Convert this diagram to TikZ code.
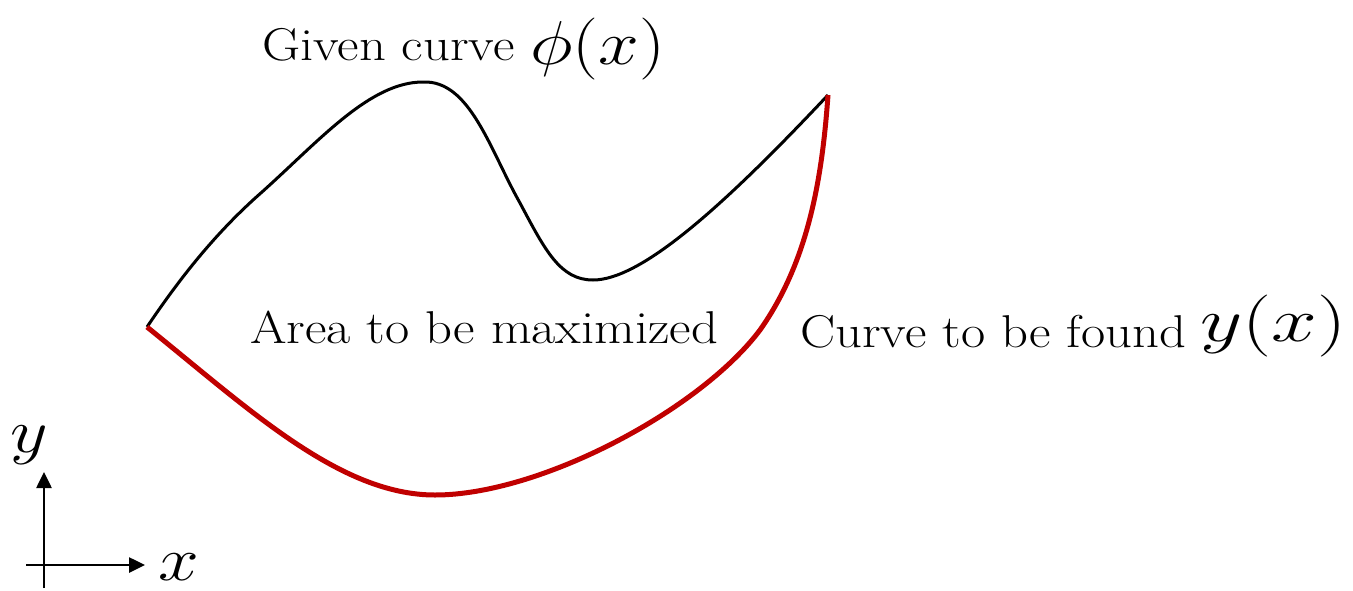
\documentclass[tikz,border=0pt]{standalone}
\usetikzlibrary{arrows.meta}
\definecolor{curvered}{RGB}{192,0,0}
\newcommand{\widetext}[1]{\scalebox{1.145}[1]{#1}}
\newcommand{\bigmath}[2][2.94]{\scalebox{#1}[2.49]{\Huge$#2$}}
\tikzset{
  txt/.style={inner sep=0pt, anchor=base west, font=\fontsize{46}{50}\selectfont},
  mth/.style={inner sep=0pt, anchor=base west},
  given/.style={line width=3pt, black},
  found/.style={line width=5pt, curvered},
  axis/.style={line width=2.6pt, -{Triangle[length=16pt,width=15pt]}}
}
\begin{document}
\begin{tikzpicture}[x=1pt,y=-1pt]
\useasboundingbox (0,0) rectangle (1353,590);
\coordinate (L) at (147,327);
\coordinate (R) at (828,95);
\draw[given] (L) .. controls (178,281) and (214,234) .. (262,192)
  .. controls (320,140) and (370,82) .. (423,82)
  .. controls (470,80) and (490,150) .. (520,203)
  .. controls (545,250) and (560,280) .. (593,280)
  .. controls (640,280) and (720,210) .. (R);
\draw[found] (L) .. controls (250,410) and (340,495) .. (435,495)
  .. controls (540,495) and (700,410) .. (760,330)
  .. controls (808,262) and (822,180) .. (R);
\node[txt] (given) at (262,60) {\widetext{Given curve}};
\node[mth] (phi) at (530,64) {\bigmath{\phi(x)}};
\node[txt] (area) at (250,343) {\widetext{Area to be maximized}};
\node[txt] (found) at (800,347) {\widetext{Curve to be found}};
\node[mth] (yx) at (1200,341) {\bigmath[3.3]{y(x)}};
\coordinate (ybot) at (44,588);
\coordinate (ytop) at (44,472);
\coordinate (xl) at (26,565);
\coordinate (xr) at (145,565);
\draw[axis] (ybot) -- (ytop);
\draw[axis] (xl) -- (xr);
\node[mth] (ylab) at (10,452) {\bigmath{y}};
\node[mth] (xlab) at (158,580) {\bigmath{x}};
\end{tikzpicture}
\end{document}
